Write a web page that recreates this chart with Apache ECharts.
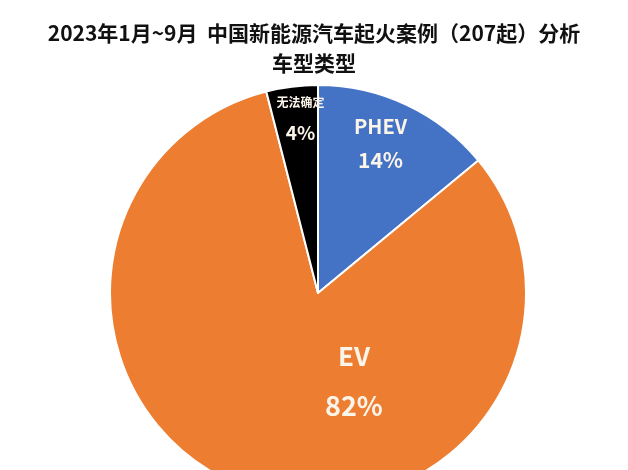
<!DOCTYPE html>
<html><head><meta charset="utf-8">
<script src="https://cdn.jsdelivr.net/npm/echarts@6/dist/echarts.min.js"></script>
<style>html,body{margin:0;padding:0;background:#fff}#c{width:628px;height:470px}</style>
</head><body><div id="c"></div>
<script>
const titleLines = ['2023年1月~9月  中国新能源汽车起火案例（207起）分析', '车型类型'];
const categories = ['PHEV', 'EV', '无法确定'];
const values = [14, 82, 4];
const colors = ['#4472C4', '#ED7D31', '#000000'];
const nameSizes = [20, 26, 12];
const pctSizes = [21, 27, 19];
const lineGaps = [33, 50, 30];
const labelShift = [[17, -53], [69, -14], [-4, -69]];

const chart = echarts.init(document.getElementById('c'));
const data = categories.map((c, i) => ({
  name: c,
  value: values[i],
  itemStyle: { color: colors[i] },
  label: {
    formatter: '{n|' + c + '}\n{p|' + values[i] + '%}',
    rich: {
      n: { fontSize: nameSizes[i], lineHeight: lineGaps[i], color: '#fbf4e8', fontFamily: 'Noto Sans CJK SC', fontWeight: 'bold' },
      p: { fontSize: pctSizes[i], lineHeight: lineGaps[i], color: '#fbf4e8', fontFamily: 'Noto Sans CJK SC', fontWeight: 'bold' }
    }
  }
}));
chart.setOption({
  animation: false,
  title: {
    text: titleLines.join('\n'),
    left: 'center',
    top: 13,
    textStyle: { fontSize: 21, lineHeight: 30, fontWeight: 'bold', color: '#111111', fontFamily: 'Noto Sans CJK SC' }
  },
  series: [{
    type: 'pie',
    center: [318, 293],
    radius: 208,
    startAngle: 90,
    clockwise: true,
    data: data,
    itemStyle: { borderColor: '#ffffff', borderWidth: 2 },
    label: { show: true, position: 'inside' },
    labelLine: { show: false },
    labelLayout: function (p) {
      const s = labelShift[p.dataIndex];
      return { dx: s[0], dy: s[1] };
    }
  }]
});
</script></body></html>
